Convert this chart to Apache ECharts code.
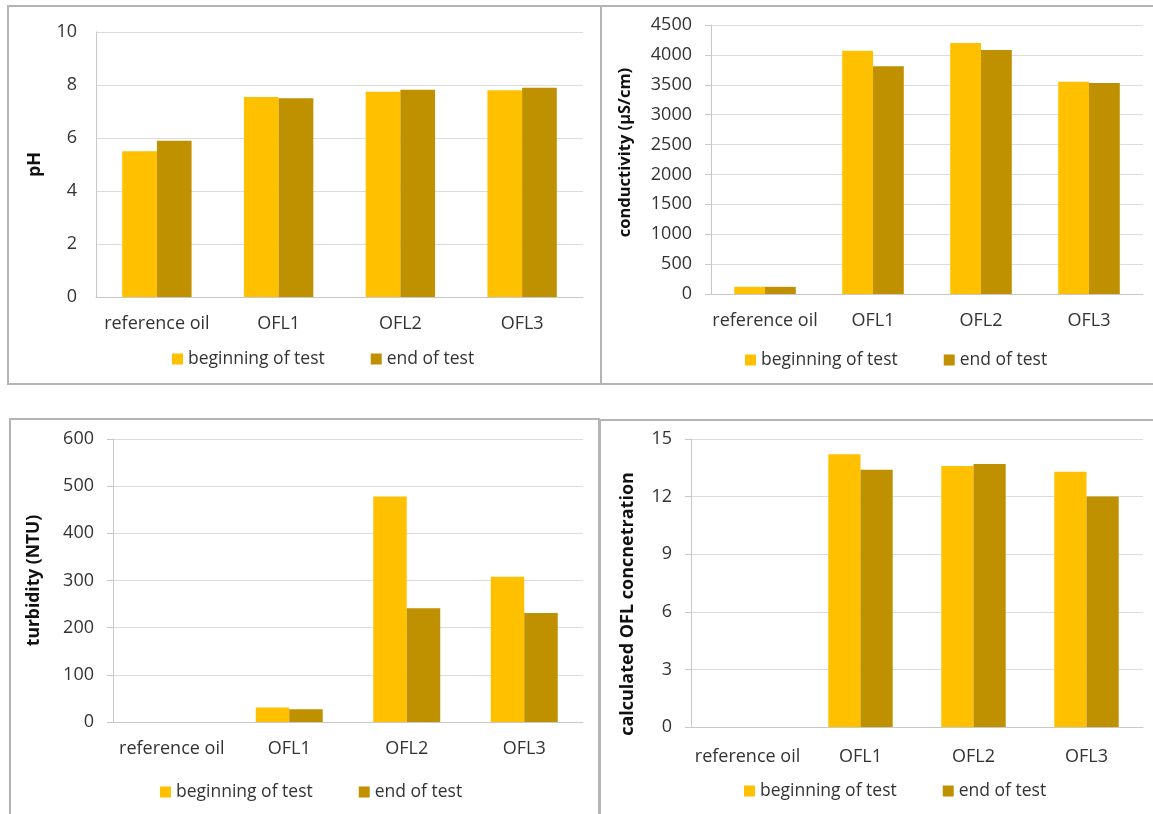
<!DOCTYPE html>
<html>
<head>
<meta charset="utf-8">
<script src="https://cdn.jsdelivr.net/npm/echarts@6/dist/echarts.min.js"></script>
<style>
  html, body { margin: 0; padding: 0; background: #fff; }
  #chart { width: 1153px; height: 814px; }
</style>
</head>
<body>
<div id="chart"></div>
<script>
// Samples on the category axis
const categories = ['reference oil', 'OFL1', 'OFL2', 'OFL3'];
const seriesNames = ['beginning of test', 'end of test'];

// pH
const phBegin = [5.5, 7.55, 7.75, 7.8];
const phEnd = [5.9, 7.5, 7.82, 7.9];

// conductivity (µS/cm)
const condBegin = [120, 4070, 4200, 3550];
const condEnd = [120, 3810, 4080, 3530];

// turbidity (NTU)
const turbBegin = [0, 31, 478, 308];
const turbEnd = [0, 27, 241, 231];

// calculated OFL concentration
const oflBegin = [0, 14.2, 13.6, 13.3];
const oflEnd = [0, 13.4, 13.7, 12.0];

// axis titles and scales
const axisTitles = ['pH', 'conductivity (µS/cm)', 'turbidity (NTU)', 'calculated OFL concnetration'];
const axisMax = [10, 4500, 600, 15];
const axisStep = [2, 500, 100, 3];

const COLOR_BEGIN = '#FFC000';
const COLOR_END = '#BF9000';
const FONT = '"Open Sans", "Liberation Sans", sans-serif';

// panel layouts: plot area, title gap/size/offset, legend position, tick marks
const panels = [
  { grid: { left: 96, top: 32, width: 487, height: 265 }, nameGap: 52, nameSize: 18, namePad: [0, 0, 0, 0], legend: { left: 172, top: 350 }, ticks: false, labelMargin: 18 },
  { grid: { left: 711, top: 25, width: 432, height: 269 }, nameGap: 77, nameSize: 16.5, namePad: [0, 0, 0, 14], legend: { left: 745, top: 351 }, ticks: true, labelMargin: 18 },
  { grid: { left: 113, top: 439, width: 470, height: 283 }, nameGap: 70, nameSize: 17.5, namePad: [0, 0, 0, 0], legend: { left: 160, top: 783 }, ticks: true, labelMargin: 18 },
  { grid: { left: 691, top: 439, width: 452, height: 288 }, nameGap: 54, nameSize: 18, namePad: [0, 42, 0, 0], legend: { left: 744, top: 782 }, ticks: true, labelMargin: 21 }
];
const dataSets = [
  [phBegin, phEnd],
  [condBegin, condEnd],
  [turbBegin, turbEnd],
  [oflBegin, oflEnd]
];

const grids = [], xAxes = [], yAxes = [], series = [], legends = [];
panels.forEach((p, i) => {
  grids.push(Object.assign({ containLabel: false }, p.grid));
  xAxes.push({
    type: 'category',
    gridIndex: i,
    data: categories,
    axisLine: { show: true, lineStyle: { color: '#c8c8c8', width: 1 } },
    axisTick: { show: false },
    axisLabel: { interval: 0, color: '#333', fontFamily: FONT, fontSize: 18, margin: p.labelMargin }
  });
  yAxes.push({
    type: 'value',
    gridIndex: i,
    min: 0,
    max: axisMax[i],
    interval: axisStep[i],
    name: axisTitles[i],
    nameLocation: 'middle',
    nameGap: p.nameGap,
    nameRotate: 90,
    nameTextStyle: { color: '#111', fontFamily: FONT, fontSize: p.nameSize, fontWeight: 'bold', padding: p.namePad },
    axisLine: { show: true, lineStyle: { color: '#c8c8c8', width: 1 } },
    axisTick: { show: p.ticks, length: 6, lineStyle: { color: '#c8c8c8' } },
    splitLine: { show: true, lineStyle: { color: '#dcdcdc', width: 1 } },
    axisLabel: {
      color: '#333', fontFamily: FONT, fontSize: 18, margin: 19,
      formatter: v => String(v)
    }
  });
  dataSets[i].forEach((vals, k) => {
    series.push({
      type: 'bar',
      name: seriesNames[k],
      xAxisIndex: i,
      yAxisIndex: i,
      data: vals,
      barGap: '0%',
      barCategoryGap: '43%',
      itemStyle: { color: k === 0 ? COLOR_BEGIN : COLOR_END },
      emphasis: { disabled: true },
      animation: false
    });
  });
  legends.push({
    left: p.legend.left,
    top: p.legend.top,
    padding: 0,
    orient: 'horizontal',
    itemWidth: 11,
    itemHeight: 11,
    itemGap: 46,
    icon: 'rect',
    data: seriesNames,
    selectedMode: false,
    textStyle: { color: '#333', fontFamily: FONT, fontSize: 17.5 }
  });
});

// panel frames
const frameStyle = { fill: 'none', stroke: '#b4b4b4', lineWidth: 2 };
const graphics = [
  { type: 'rect', shape: { x: 8, y: 6, width: 593, height: 378 }, style: frameStyle, silent: true },
  { type: 'rect', shape: { x: 601, y: 6, width: 560, height: 378 }, style: frameStyle, silent: true },
  { type: 'rect', shape: { x: 10, y: 419, width: 589, height: 410 }, style: frameStyle, silent: true },
  { type: 'rect', shape: { x: 600, y: 420, width: 560, height: 410 }, style: frameStyle, silent: true }
];

const chart = echarts.init(document.getElementById('chart'), null, { renderer: 'canvas' });
chart.setOption({
  animation: false,
  backgroundColor: '#fff',
  grid: grids,
  xAxis: xAxes,
  yAxis: yAxes,
  legend: legends,
  series: series,
  graphic: graphics
});
</script>
</body>
</html>
